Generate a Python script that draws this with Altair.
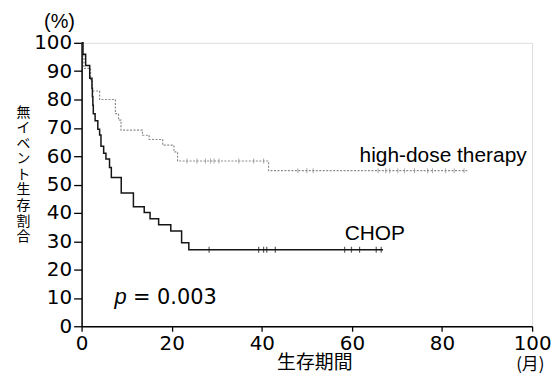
import altair as alt
import pandas as pd

# CHOP (solid)
chop_t = [0, 0.3, 0.9, 1.8, 2.3, 2.4, 2.5, 2.6, 3.0, 3.6, 4.0, 4.3, 4.9, 5.4, 6.2, 6.6,
          8.8, 11.5, 13.9, 15.2, 17.1, 19.8, 22.2, 23.8, 66.9]
chop_s = [100, 96, 92, 87.5, 84, 81, 78, 75, 72.5, 69.5, 67.5, 63.5, 61, 59, 56, 52.5,
          47, 42.2, 40.1, 37.9, 35.8, 33.6, 29.5, 27, 27]
chop_cens_t = [28.3, 39.3, 40.4, 41.1, 43.0, 58.4, 59.9, 61.7, 65.4, 66.5]
chop_cens_s = [27] * len(chop_cens_t)

# high-dose therapy (dotted)
hd_t = [0, 0.3, 0.5, 2.0, 2.4, 4.0, 7.5, 8.2, 8.75, 13.5, 15.0, 18.0, 20.5, 21.3, 41.5, 85.6]
hd_s = [100, 96, 91, 87, 83, 80, 75, 72.7, 69.2, 67.4, 65.9, 63.9, 61.5, 58.3, 54.9, 54.9]
hd_cens_t = [23.4, 25.6, 27.5, 28.6, 29.4, 30.5, 34.9, 38.2, 40.4,
             48.0, 50.0, 51.4, 65.8, 67.5, 68.4, 70.2, 71.7, 73.9, 76.8, 77.9, 80.8, 82.7, 84.9]
hd_cens_s = [58.3] * 9 + [54.9] * 14

x_ticks = [0, 20, 40, 60, 80, 100]
y_ticks = [0, 10, 20, 30, 40, 50, 60, 70, 80, 90, 100]
y_title = ["無", "イ", "ベ", "ン", "ト", "生", "存", "割", "合"]

chop = pd.DataFrame({"t": chop_t, "s": chop_s})
hd = pd.DataFrame({"t": hd_t, "s": hd_s})
chop_c = pd.DataFrame({"t": chop_cens_t, "s": chop_cens_s})
hd_c = pd.DataFrame({"t": hd_cens_t, "s": hd_cens_s})

xs = alt.Scale(domain=[0, 100], nice=False, zero=False)
ys = alt.Scale(domain=[0, 100], nice=False, zero=False)

x_axis = alt.Axis(
    values=x_ticks, title="生存期間", grid=False, tickSize=5, labelPadding=2,
    labelFont="DejaVu Sans", labelFontSize=20, labelColor="#000", labelFlush=False,
    labelOverlap=False,
    domainColor="#000", domainWidth=1.5, tickColor="#000", tickWidth=1.3,
    titleFont="Noto Sans CJK JP", titleFontSize=19, titleFontWeight="normal",
    titleColor="#000", titleX=234, titleY=27, titleBaseline="top", titleAlign="center")
y_axis = alt.Axis(
    values=y_ticks, title=y_title, grid=False, tickSize=8, labelPadding=2,
    labelFont="DejaVu Sans", labelFontSize=20, labelColor="#000", labelOverlap=False,
    domainColor="#000", domainWidth=1.5, tickColor="#000", tickWidth=1.3,
    titleFont="Noto Sans CJK JP", titleFontSize=14, titleFontWeight="normal",
    titleColor="#000", titleAngle=0, titleX=-59, titleY=63, titleAlign="center",
    titleBaseline="top", titleLineHeight=15.6)


def X():
    return alt.X("t:Q", scale=xs, axis=x_axis)


def Y():
    return alt.Y("s:Q", scale=ys, axis=y_axis)


hd_line = alt.Chart(hd).mark_line(interpolate="step-after", color="#8a8a8a",
                                  strokeWidth=1.2, strokeDash=[2, 1.5]).encode(x=X(), y=Y())
chop_line = alt.Chart(chop).mark_line(interpolate="step-after", color="#151515",
                                      strokeWidth=1.5).encode(x=X(), y=Y())
hd_ticks = alt.Chart(hd_c).mark_tick(orient="vertical", size=5, thickness=1,
                                     color="#8a8a8a").encode(x=X(), y=Y())
chop_ticks = alt.Chart(chop_c).mark_tick(orient="vertical", size=6, thickness=1.2,
                                         color="#151515").encode(x=X(), y=Y())

labels = pd.DataFrame({
    "t": [61.7, 58.4, 11.4, 99.6],
    "s": [58.0, 30.5, 8.0, -15.6],
    "txt": ["high-dose therapy", "CHOP", "= 0.003", "(月)"],
})
word_labels = alt.Chart(labels.iloc[:2]).mark_text(
    align="left", baseline="alphabetic", font="Liberation Sans", fontSize=21, color="#000"
).encode(x=X(), y=Y(), text="txt:N")
pval = alt.Chart(labels.iloc[2:3]).mark_text(
    align="left", baseline="alphabetic", font="DejaVu Sans", fontSize=21, color="#000"
).encode(x=X(), y=Y(), text="txt:N")
month_unit = alt.Chart(labels.iloc[3:4]).mark_text(
    align="center", baseline="alphabetic", font="Noto Sans CJK JP", fontSize=17, color="#000"
).encode(x=X(), y=Y(), text="txt:N")

p_df = pd.DataFrame({"t": [7.3], "s": [8.0], "txt": ["p"]})
p_italic = alt.Chart(p_df).mark_text(
    align="left", baseline="alphabetic", font="Liberation Sans", fontSize=22,
    fontStyle="italic", color="#000"
).encode(x=X(), y=Y(), text="txt:N")

pct_df = pd.DataFrame({"t": [-4.9], "s": [105.4], "txt": ["(%)"]})
pct = alt.Chart(pct_df).mark_text(
    align="center", baseline="alphabetic", font="Liberation Sans", fontSize=20, color="#000"
).encode(x=X(), y=Y(), text="txt:N")

chart = alt.layer(hd_line, chop_line, hd_ticks, chop_ticks, word_labels, pval,
                  month_unit, p_italic, pct).properties(
    width=453, height=285,
    autosize=alt.AutoSizeParams(type="none"),
    padding={"left": 74, "top": 34, "right": 20, "bottom": 50},
).configure_view(stroke=None).configure(background="white")

chart.save("out.html", embed_options={"renderer": "svg", "actions": False})
